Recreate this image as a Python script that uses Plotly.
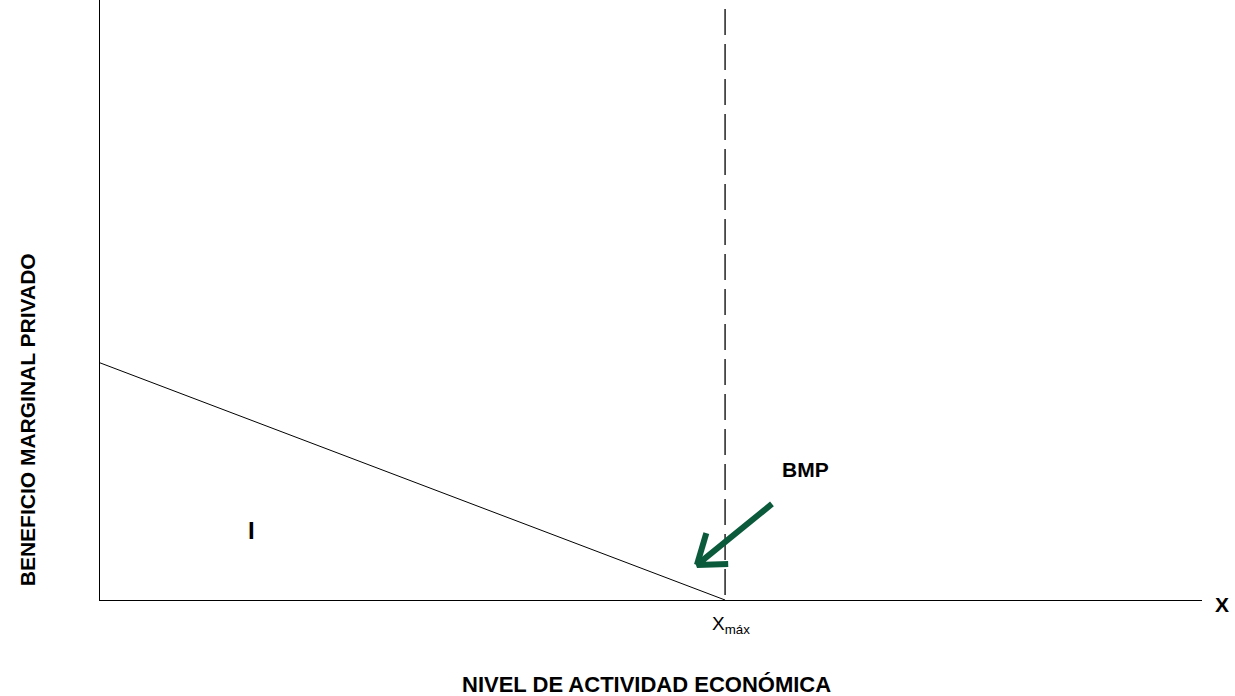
import plotly.graph_objects as go

# Data (arbitrary units)
bmp_x = [0, 10]          # marginal private benefit line: x values
bmp_y = [10, 0]          # marginal private benefit line: y values
x_max = 10               # X max
x_range = [0, 17.63]
y_range = [0, 25.3]
arrow_tail = (10.75, 4.05)
arrow_tip = (9.55, 1.48)
arrow_head_h = (10.05, 1.52)
arrow_head_v = (9.7, 2.82)

FONT = "Liberation Sans Narrow, Arial Narrow, Liberation Sans, Arial, sans-serif"
GREEN = "#0b5a3c"

fig = go.Figure()
fig.add_trace(go.Scatter(x=bmp_x, y=bmp_y, mode="lines",
                         line=dict(color="black", width=1), hoverinfo="skip"))
fig.add_trace(go.Scatter(x=[x_max, x_max], y=[y_range[1] - 0.38, 0], mode="lines",
                         line=dict(color="black", width=1.3, dash="26px,9px"), hoverinfo="skip"))
# arrow
fig.add_trace(go.Scatter(x=[arrow_tail[0], arrow_tip[0], arrow_head_h[0], None, arrow_tip[0], arrow_head_v[0]],
                         y=[arrow_tail[1], arrow_tip[1], arrow_head_h[1], None, arrow_tip[1], arrow_head_v[1]],
                         mode="lines", line=dict(color=GREEN, width=6), hoverinfo="skip"))

ann_font = dict(family=FONT, size=21, color="black")
fig.add_annotation(x=11.28, y=5.49, text="<b>BMP</b>", showarrow=False, font=ann_font,
                   xanchor="center", yanchor="middle")
fig.add_annotation(x=2.43, y=2.95, text="<b>I</b>", showarrow=False,
                   font=dict(family=FONT, size=24, color="black"),
                   xanchor="center", yanchor="middle")
fig.add_annotation(x=x_max, y=0, yshift=-25, xshift=6, text="X<sub>máx</sub>", showarrow=False,
                   xanchor="center", yanchor="middle",
                   font=dict(family=FONT, size=19, color="black"))
fig.add_annotation(xref="paper", yref="paper", x=1.018, y=-0.008, text="<b>X</b>",
                   xanchor="center", yanchor="middle", showarrow=False, font=ann_font)
fig.add_annotation(xref="paper", yref="paper", x=0.496, y=-0.14, text="<b>NIVEL DE ACTIVIDAD ECONÓMICA</b>",
                   xanchor="center", yanchor="middle", showarrow=False,
                   font=dict(family=FONT, size=22, color="black"))
fig.add_annotation(xref="paper", yref="paper", x=-0.066, y=0.3, text="<b>BENEFICIO MARGINAL PRIVADO</b>",
                   xanchor="center", yanchor="middle",
                   textangle=-90, showarrow=False, font=dict(family=FONT, size=21, color="black"))

fig.update_xaxes(range=x_range, showline=True, linecolor="black", linewidth=1,
                 showgrid=False, zeroline=False, showticklabels=False, ticks="")
fig.update_yaxes(range=y_range, showline=True, linecolor="black", linewidth=1,
                 showgrid=False, zeroline=False, showticklabels=False, ticks="")
fig.update_layout(width=1235, height=696, showlegend=False,
                  margin=dict(l=100, r=33, t=0, b=96),
                  plot_bgcolor="white", paper_bgcolor="white")
fig.write_html("out.html", config={"displayModeBar": False},
               post_script="document.body.style.margin='0';document.body.style.overflow='hidden';")
